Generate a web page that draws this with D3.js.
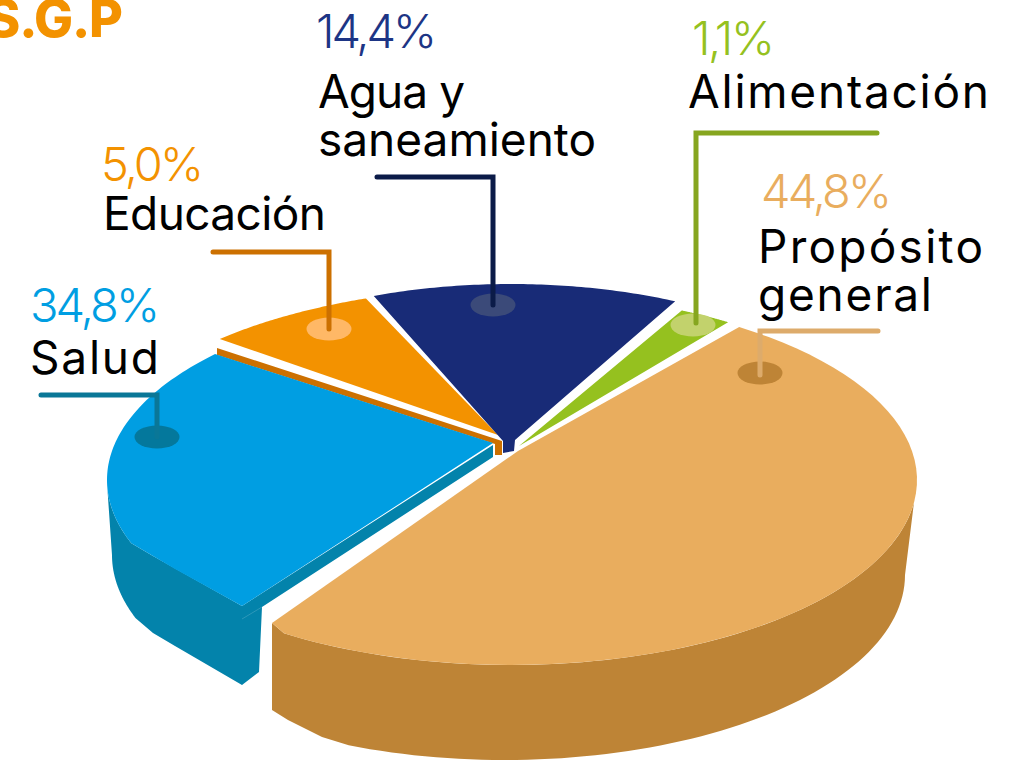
<!DOCTYPE html>
<html><head><meta charset="utf-8">
<script src="https://cdn.jsdelivr.net/npm/d3@7/dist/d3.min.js"></script>
<style>html,body{margin:0;padding:0;background:#fff;overflow:hidden}svg{display:block}text{font-family:Inter,"Open Sans",sans-serif}</style>
</head><body>
<script>
// ---- data ----
const title = "S.G.P";
const categories = ["Propósito general", "Salud", "Educación", "Agua y saneamiento", "Alimentación"];
const values = [44.8, 34.8, 5.0, 14.4, 1.1];
const labelLines = [["Propósito","general"],["Salud"],["Educación"],["Agua y","saneamiento"],["Alimentación"]];
const topColors = ["#E9AD5E","#009EE2","#F39200","#182B77","#95C11F"];
const textColors = ["#E9AD5E","#009EE2","#F39200","#1D3585","#95C11F"];
const leaderColors = ["#DDAB6B","#0A7797","#CC7000","#0B1B48","#86A61F"];
const dotColors = ["#BE8436","#04789C","#FFB866","#3B4A79","#C2D26C"];

// ---- drawn projection of each wedge (hand-drawn, tilted, exploded pie) ----
const width = 1029, height = 765;
const wallTan = "#BE8436", wallBlue = "#0383AB", stripOrange = "#CC7000";
const frames = [
 {head:[[518,451]], e:{cx:511,cy:480,rx:406,ry:185}, t0:34.2, t1:214, endTip:[[272,623]]},
 {head:[[493,443]], e:{cx:511,cy:480,rx:404,ry:185}, t0:250, t1:312.9, startTip:[[242,606],[175,569],[153,556]]},
 {head:[[498,435]], e:{cx:511,cy:473,rx:420,ry:186}, t0:316.1, t1:339.8},
 {head:[[515,440],[514,451],[503,453],[503,441]], e:{cx:511,cy:470,rx:390,ry:186}, t0:339.4, t1:384.9},
 {head:[[519,446]], e:{cx:511,cy:479,rx:404,ry:186}, t0:25, t1:32.5}
];
const lowerTan = {cx:505,cy:575,rx:400,ry:185}, lowerBlue = {cx:505,cy:555,rx:393,ry:185};
const leaders = [
 [[878,331],[760,331],[760,375]],
 [[41,395],[157,395],[157,437]],
 [[213,252],[329,252],[329,329]],
 [[377,177],[493,177],[493,305]],
 [[877,133],[696,133],[696,323]]
];
const dots = [[760,373],[157,437],[329,329],[493,305],[693,325]];
const pctPos = [[761,208,131],[30,322,130],[101,181,103],[316,48,121],[692,55,83]];
const linePos = [[[758,263,225],[758,311,174]],[[30,374,129]],[[103,230,223]],[[318,108,147],[318,156,278]],[[688,108,301]]];

const svg = d3.select("body").append("svg").attr("width",width).attr("height",height);
const rad = Math.PI/180;
const pt = (e,t)=>[e.cx+e.rx*Math.sin(t*rad), e.cy-e.ry*Math.cos(t*rad)];
const arcPts = (e,a,b)=>d3.quantize(d3.interpolateNumber(a,b),70).map(t=>pt(e,t));
const line = d3.line().curve(d3.curveLinear);
const poly = p=>line(p)+"Z";

// walls
const walls = svg.append("g");
walls.append("path").attr("fill",wallTan).attr("d",poly([
  ...arcPts(frames[0].e,97,214), [272,623], [272,710], [288,720], [306,729], [322,737],
  ...arcPts(lowerTan,203,90)]));
walls.append("path").attr("fill",wallBlue).attr("d",poly([
  [242,606], [153,556], ...arcPts(frames[1].e,250,268),
  ...arcPts(lowerBlue,270,250), [153,633], [175,646], [242,685], [259,672], [262,607], [493,457], [493,445]]));
walls.append("path").attr("fill","none").attr("stroke","#3FA0BF").attr("stroke-width",0.7)
  .attr("d",line([[242,619],[262,607]]));
walls.append("path").attr("fill",stripOrange).attr("d",poly([[217,348],[502,441],[502,455],[495,455],[495,444],[217,355]]));

// top faces, from d3.pie angles
const pie = d3.pie().value(d=>d).sort(null);
const arcs = pie(values);
svg.append("g").selectAll("path").data(arcs).join("path")
  .attr("fill",(d,i)=>topColors[i])
  .attr("d",(d,i)=>{
    const f = frames[i];
    const t = d3.scaleLinear().domain([d.startAngle,d.endAngle]).range([f.t0,f.t1]);
    const p = [...f.head];
    if (f.startTip) p.push(...f.startTip);
    p.push(...arcPts(f.e,t(d.startAngle),t(d.endAngle)));
    if (f.endTip) p.push(...f.endTip);
    return poly(p);
  });

// markers
svg.append("g").selectAll("ellipse").data(dots).join("ellipse")
  .attr("cx",d=>d[0]).attr("cy",d=>d[1]).attr("rx",22.5).attr("ry",11.5)
  .attr("fill",(d,i)=>dotColors[i]);
svg.append("g").selectAll("path").data(leaders).join("path")
  .attr("d",d=>line(d)).attr("fill","none").attr("stroke-width",5)
  .attr("stroke-linecap","round").attr("stroke-linejoin","miter")
  .attr("stroke",(d,i)=>leaderColors[i]);

// text
const esFmt = d3.formatLocale({decimal:",",thousands:".",grouping:[3],currency:["","€"]}).format(".1f");
svg.append("text").attr("x",-14).attr("y",37).attr("textLength",137).attr("lengthAdjust","spacing")
  .attr("font-size",52).attr("font-weight",800).attr("fill","#F39200").text(title);
svg.append("g").selectAll("text").data(values).join("text")
  .attr("x",(d,i)=>pctPos[i][0]).attr("y",(d,i)=>pctPos[i][1])
  .attr("textLength",(d,i)=>pctPos[i][2]).attr("lengthAdjust","spacing")
  .attr("font-size",47).attr("font-weight",300).attr("fill",(d,i)=>textColors[i])
  .text(d=>esFmt(d)+"%");
labelLines.forEach((ls,i)=>ls.forEach((s,j)=>{
  const [x,y,w]=linePos[i][j];
  svg.append("text").attr("x",x).attr("y",y).attr("textLength",w).attr("lengthAdjust","spacing")
    .attr("font-size",46).attr("font-weight",400).attr("fill","#000").text(s);
}));
</script>
</body></html>
